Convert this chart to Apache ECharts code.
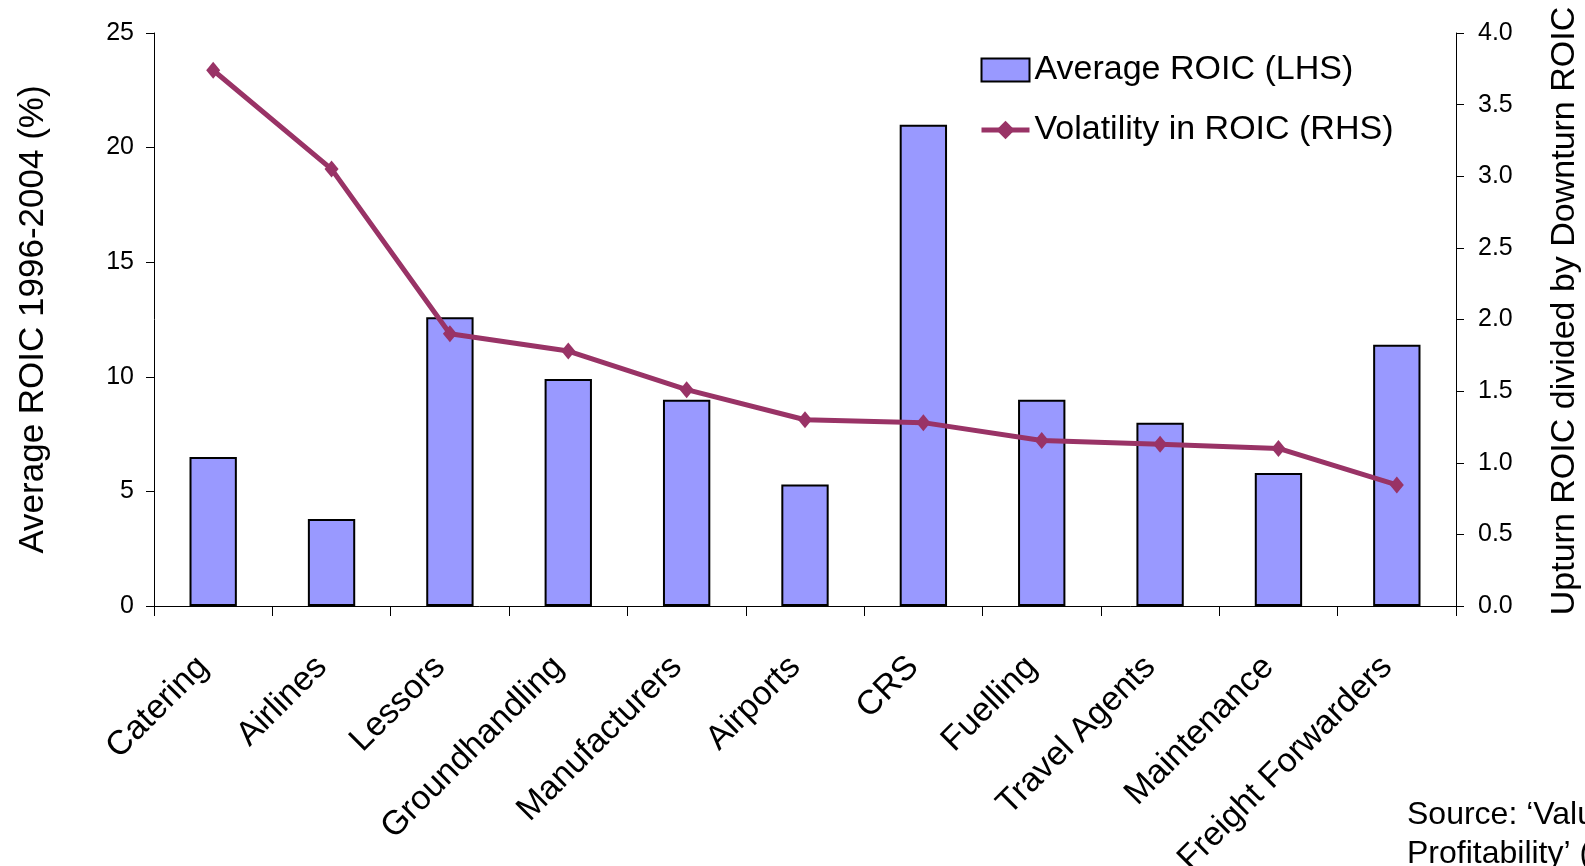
<!DOCTYPE html>
<html>
<head>
<meta charset="utf-8">
<script src="https://cdn.jsdelivr.net/npm/echarts@6/dist/echarts.min.js"></script>
<style>
  html, body { margin: 0; padding: 0; background: #ffffff; }
  #chart { width: 1585px; height: 866px; }
</style>
</head>
<body>
<div id="chart"></div>
<script>
// Value-chain segments along the category axis
const categories = ['Catering', 'Airlines', 'Lessors', 'Groundhandling', 'Manufacturers',
  'Airports', 'CRS', 'Fuelling', 'Travel Agents', 'Maintenance', 'Freight Forwarders'];

// Average ROIC 1996-2004 (%), left axis
const averageRoic = [6.5, 3.8, 12.6, 9.9, 9.0, 5.3, 21.0, 9.0, 8.0, 5.8, 11.4];

// Upturn ROIC divided by downturn ROIC, right axis
const volatilityRoic = [3.74, 3.05, 1.90, 1.78, 1.51, 1.30, 1.28, 1.155, 1.13, 1.10, 0.845];

// Axis scales
const leftAxisTicks = { min: 0, max: 25, interval: 5 };
const rightAxisTicks = { min: 0, max: 4, interval: 0.5 };

const FONT = 'Liberation Sans, Arial, Helvetica, sans-serif';

const chart = echarts.init(document.getElementById('chart'), null, { renderer: 'canvas' });

const axisLine = { show: true, lineStyle: { color: '#000000', width: 1 } };

chart.setOption({
  backgroundColor: '#ffffff',
  animation: false,
  textStyle: { fontFamily: FONT, color: '#000000' },
  grid: { left: 154, right: 129, top: 33, bottom: 260, containLabel: false, outerBoundsMode: 'none' },
  legend: {
    orient: 'vertical',
    left: 974,
    top: 48,
    itemWidth: 48,
    itemHeight: 23,
    itemGap: 26,
    textStyle: { fontFamily: FONT, fontSize: 34, color: '#000000', lineHeight: 34 },
    data: [
      { name: 'Average ROIC (LHS)', icon: 'rect' },
      { name: 'Volatility in ROIC (RHS)', lineStyle: { width: 5 } }
    ]
  },
  xAxis: {
    type: 'category',
    data: categories,
    boundaryGap: true,
    axisLine: axisLine,
    axisTick: { show: true, inside: false, length: 10, alignWithLabel: false, lineStyle: { color: '#000000' } },
    axisLabel: {
      rotate: 45,
      margin: 46,
      interval: 0,
      padding: [0, 14, 0, 0],
      fontFamily: FONT,
      fontSize: 34,
      color: '#000000'
    },
    splitLine: { show: false }
  },
  yAxis: [
    {
      type: 'value',
      position: 'left',
      min: leftAxisTicks.min,
      max: leftAxisTicks.max,
      interval: leftAxisTicks.interval,
      name: 'Average ROIC 1996-2004 (%)',
      nameLocation: 'middle',
      nameGap: 103,
      nameTextStyle: { fontFamily: FONT, fontSize: 35, color: '#000000' },
      axisLine: axisLine,
      axisTick: { show: true, inside: false, length: 8, lineStyle: { color: '#000000' } },
      axisLabel: { margin: 20, fontFamily: FONT, fontSize: 25, color: '#000000' },
      splitLine: { show: false }
    },
    {
      type: 'value',
      position: 'right',
      min: rightAxisTicks.min,
      max: rightAxisTicks.max,
      interval: rightAxisTicks.interval,
      axisLine: axisLine,
      axisTick: { show: true, inside: false, length: 8, lineStyle: { color: '#000000' } },
      axisLabel: {
        margin: 22,
        fontFamily: FONT,
        fontSize: 25,
        color: '#000000',
        formatter: function (v) { return v.toFixed(1); }
      },
      splitLine: { show: false }
    }
  ],
  series: [
    {
      name: 'Average ROIC (LHS)',
      type: 'bar',
      yAxisIndex: 0,
      data: averageRoic,
      barWidth: '40%',
      itemStyle: { color: '#9999FF', borderColor: '#000000', borderWidth: 2 }
    },
    {
      name: 'Volatility in ROIC (RHS)',
      type: 'line',
      yAxisIndex: 1,
      data: volatilityRoic,
      symbol: 'diamond',
      symbolSize: [14, 17],
      lineStyle: { color: '#993366', width: 5 },
      itemStyle: { color: '#993366' },
      z: 5
    }
  ],
  graphic: [
    {
      // right-hand axis title, reading bottom to top
      type: 'text',
      x: 1565,
      y: 311,
      rotation: Math.PI / 2,
      style: {
        text: 'Upturn ROIC divided by Downturn ROIC',
        font: '34px ' + FONT,
        align: 'center',
        verticalAlign: 'middle',
        fill: '#000000'
      }
    },
    {
      type: 'text',
      left: 1407,
      top: 796,
      style: {
        text: 'Source: ‘Value Chain\nProfitability’ (IATA, 2006)',
        font: '32px ' + FONT,
        lineHeight: 39,
        fill: '#000000'
      }
    }
  ]
});
</script>
</body>
</html>
